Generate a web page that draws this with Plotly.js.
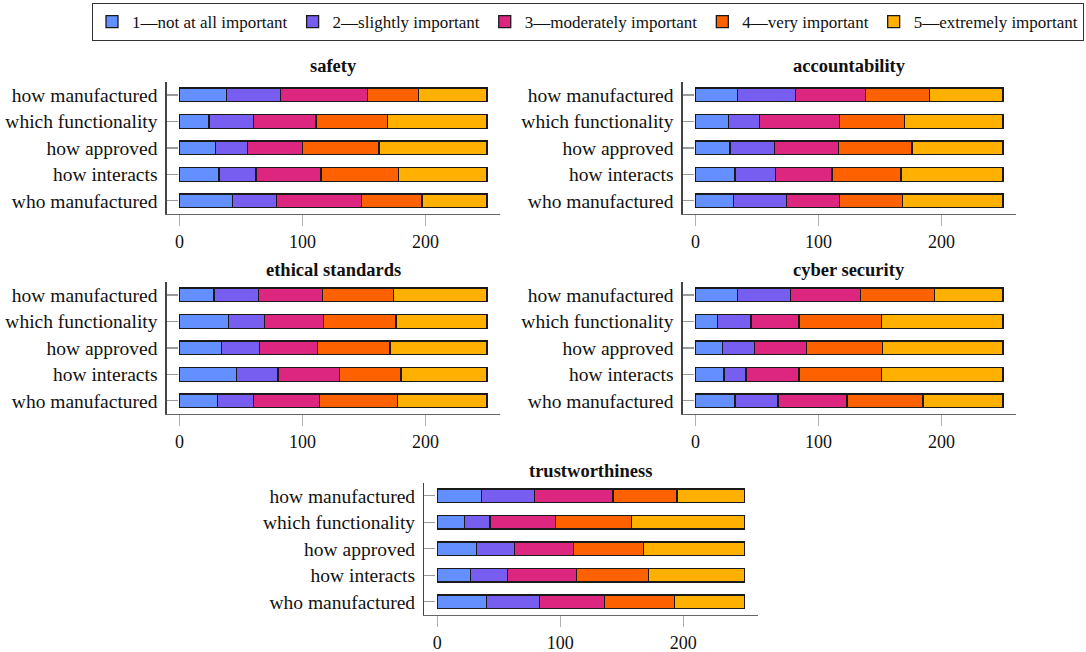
<!DOCTYPE html>
<html>
<head>
<meta charset="utf-8">
<script src="https://cdn.plot.ly/plotly-3.0.1.min.js"></script>
<style>html,body{margin:0;padding:0;background:#fff;}#chart{width:1086px;height:652px;}</style>
</head>
<body>
<div id="chart"></div>
<script>
// Row order (top to bottom)
const categories = ["how manufactured", "which functionality", "how approved", "how interacts", "who manufactured"];
const levels = ["1—not at all important", "2—slightly important", "3—moderately important", "4—very important", "5—extremely important"];
const colors = ["#648FFF", "#785EF0", "#DC267F", "#FE6100", "#FFB000"];
const xTicks = [0, 100, 200];

// Counts per row: [level1, level2, level3, level4, level5]
const safety = [[38,44,71,41,56],[24,36,51,58,81],[29,26,45,62,88],[32,30,53,63,72],[43,36,69,49,53]];
const accountability = [[34,47,57,52,60],[27,25,65,53,80],[28,36,52,60,74],[32,33,46,56,83],[31,43,43,51,82]];
const ethicalStandards = [[28,36,52,58,76],[40,29,48,59,74],[34,31,47,59,79],[46,34,50,50,70],[31,29,54,63,73]];
const cyberSecurity = [[34,43,57,60,56],[18,27,39,67,99],[22,26,42,62,98],[23,18,43,67,99],[32,35,56,62,65]];
const trustworthiness = [[36,43,64,52,55],[22,21,53,62,92],[32,31,48,57,82],[27,30,56,59,78],[40,43,53,57,57]];

const W = 1086, H = 652;
const panels = [
  {title: "safety", data: safety, x0: 166.7, x1: 500, y0: 81.7, y1: 214, ty: 66},
  {title: "accountability", data: accountability, x0: 682.7, x1: 1016, y0: 81.7, y1: 214, ty: 66},
  {title: "ethical standards", data: ethicalStandards, x0: 166.7, x1: 500, y0: 281.7, y1: 414, ty: 270},
  {title: "cyber security", data: cyberSecurity, x0: 682.7, x1: 1016, y0: 281.7, y1: 414, ty: 270},
  {title: "trustworthiness", data: trustworthiness, x0: 424.3, x1: 757.6, y0: 482.5, y1: 615, ty: 471}
];

const font = "'Liberation Serif', 'DejaVu Serif', serif";
const traces = [];
const layout = {
  width: W, height: H,
  margin: {l: 0, r: 0, t: 0, b: 0},
  paper_bgcolor: "#fff", plot_bgcolor: "#fff",
  barmode: "stack",
  bargap: 0.48,
  font: {family: font, size: 16, color: "#111"},
  showlegend: true,
  legend: {
    orientation: "h", x: 1084 / W, y: 1 - 3 / H, xanchor: "right", yanchor: "top",
    bordercolor: "#333", borderwidth: 1, bgcolor: "#fff",
    font: {family: font, size: 17, color: "#111"},
    itemwidth: 30, tracegroupgap: 0
  },
  annotations: []
};

panels.forEach((p, i) => {
  const n = i + 1;
  const xa = "xaxis" + (n === 1 ? "" : n);
  const ya = "yaxis" + (n === 1 ? "" : n);
  levels.forEach((lv, k) => {
    traces.push({
      type: "bar", orientation: "h",
      name: lv,
      x: p.data.map(r => r[k]),
      y: categories,
      xaxis: "x" + (n === 1 ? "" : n),
      yaxis: "y" + (n === 1 ? "" : n),
      marker: {color: colors[k], line: {color: "#1a1a1a", width: 1.3}},
      showlegend: i === 0,
      legendgroup: "l" + k,
      hoverinfo: "x+y+name"
    });
  });
  layout[xa] = {
    domain: [p.x0 / W, p.x1 / W],
    anchor: "y" + (n === 1 ? "" : n),
    range: [-10.5, 260.5],
    tickvals: xTicks, ticktext: xTicks.map(String),
    ticks: "outside", ticklen: 11, tickcolor: "#b0b0b0", tickwidth: 1.3,
    showline: true, linecolor: "#666", linewidth: 1.4,
    showgrid: false, zeroline: false,
    tickfont: {family: font, size: 18, color: "#111"},
    fixedrange: true
  };
  layout[ya] = {
    domain: [1 - p.y1 / H, 1 - p.y0 / H],
    anchor: "x" + (n === 1 ? "" : n),
    type: "category",
    categoryorder: "array", categoryarray: categories,
    range: [4.5, -0.5],
    ticks: "inside", ticklen: 11, tickcolor: "#9a9a9a", tickwidth: 1.3,
    showline: true, linecolor: "#444", linewidth: 1.3,
    showgrid: false, zeroline: false,
    ticklabelstandoff: 4,
    tickfont: {family: font, size: 19.5, color: "#111"},
    fixedrange: true
  };
  layout.annotations.push({
    text: "<b>" + p.title + "</b>",
    xref: "paper", yref: "paper",
    x: (p.x0 + p.x1) / 2 / W, y: 1 - p.ty / H,
    xanchor: "center", yanchor: "middle",
    showarrow: false,
    font: {family: font, size: 18.5, color: "#111"}
  });
});

Plotly.newPlot("chart", traces, layout, {displayModeBar: false, staticPlot: true});
</script>
</body>
</html>
